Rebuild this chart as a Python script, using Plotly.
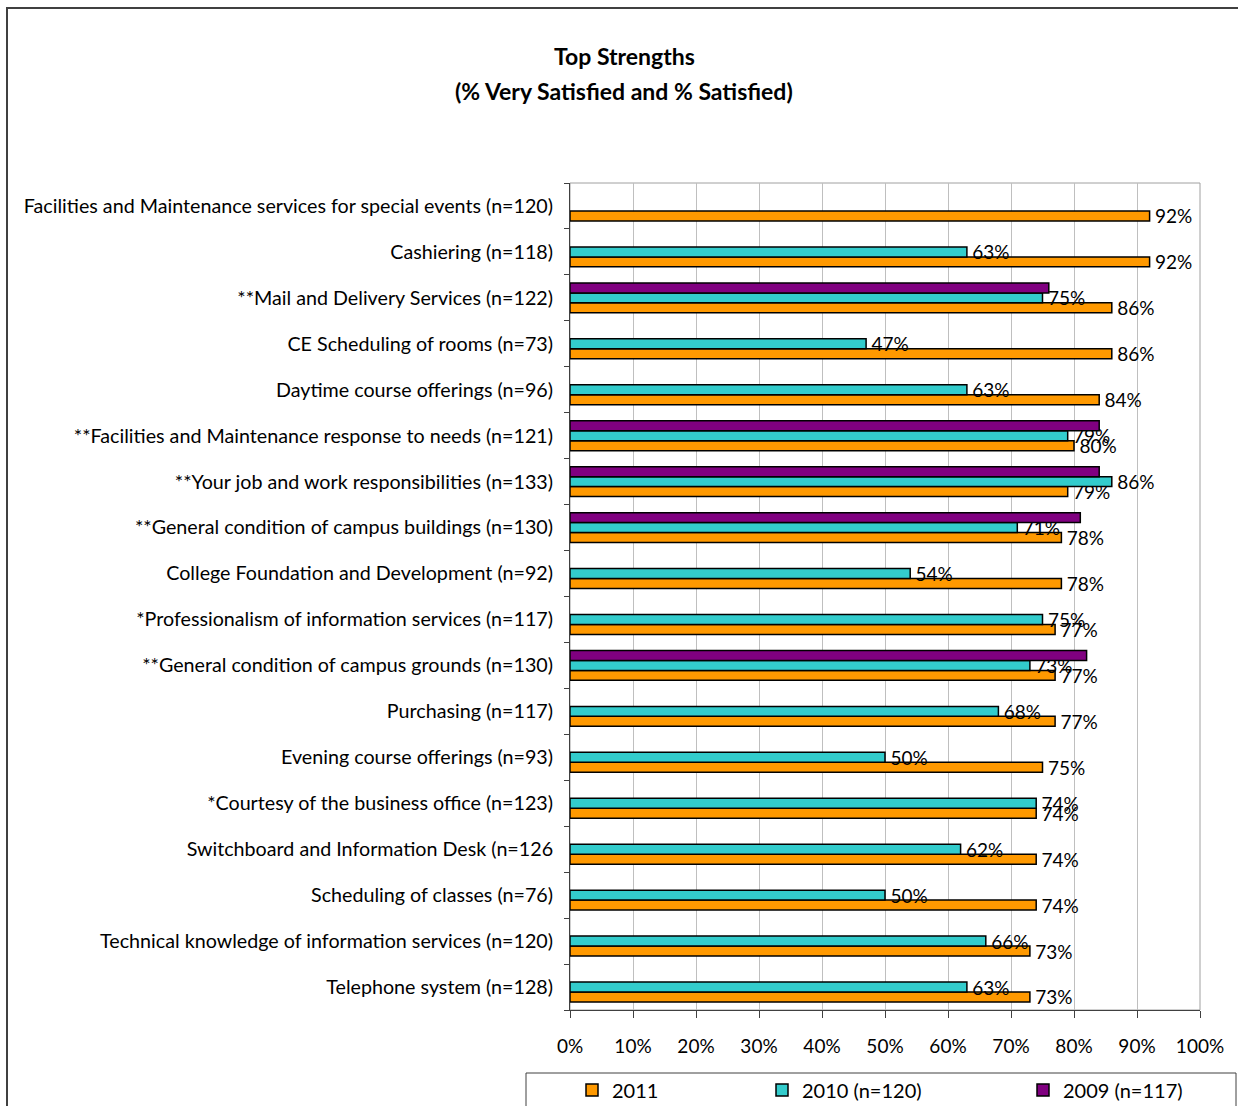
import plotly.graph_objects as go

categories = [
    "Facilities and Maintenance services for special events (n=120)",
    "Cashiering (n=118)",
    "**Mail and Delivery Services (n=122)",
    "CE Scheduling of rooms (n=73)",
    "Daytime course offerings (n=96)",
    "**Facilities and Maintenance response to needs (n=121)",
    "**Your job and work responsibilities (n=133)",
    "**General condition of campus buildings (n=130)",
    "College Foundation and Development (n=92)",
    "*Professionalism of information services (n=117)",
    "**General condition of campus grounds (n=130)",
    "Purchasing (n=117)",
    "Evening course offerings (n=93)",
    "*Courtesy of the business office (n=123)",
    "Switchboard and Information Desk (n=126",
    "Scheduling of classes (n=76)",
    "Technical knowledge of information services (n=120)",
    "Telephone system (n=128)",
]
v2011 = [92, 92, 86, 86, 84, 80, 79, 78, 78, 77, 77, 77, 75, 74, 74, 74, 73, 73]
v2010 = [None, 63, 75, 47, 63, 79, 86, 71, 54, 75, 73, 68, 50, 74, 62, 50, 66, 63]
v2009 = [None, None, 76, None, None, 84, 84, 81, None, None, 82, None, None, None, None, None, None, None]

series_names = ["2011", "2010 (n=120)", "2009 (n=117)"]
colors = ["#FF9900", "#33CCCC", "#800080"]
x_ticks = [0, 10, 20, 30, 40, 50, 60, 70, 80, 90, 100]
x_tick_labels = ["0%", "10%", "20%", "30%", "40%", "50%", "60%", "70%", "80%", "90%", "100%"]
title_lines = ["Top Strengths", "(% Very Satisfied and % Satisfied)"]

FONT = "Lato, Open Sans, sans-serif"

def lab(vals, show):
    if not show:
        return None
    return ["" if v is None else f"\u2009{v}%" for v in vals]

fig = go.Figure()
for i, (vals, name, col, show) in enumerate(zip([v2011, v2010, v2009], series_names, colors, [True, True, False])):
    fig.add_trace(go.Bar(
        y=categories, x=vals, orientation="h", name=name,
        marker=dict(color=col, line=dict(color="black", width=1.5)),
        text=lab(vals, show), textposition="outside" if show else "none",
        textfont=dict(family=FONT, size=19, color="black"),
        constraintext="none", cliponaxis=False,
        legend="legend" if i == 0 else f"legend{i+1}",
        showlegend=True,
        hoverinfo="x+y+name",
    ))

W, H = 1238, 1106
L, R, T, B = 570, 1200, 183, 1010

def px(x):
    return (x - L) / (R - L)

def py(y):
    return (B - y) / (B - T)

legend_common = dict(
    orientation="h", xref="container", yref="container",
    xanchor="left", yanchor="middle", bgcolor="rgba(0,0,0,0)",
    borderwidth=0, font=dict(family=FONT, size=20, color="black"),
)

fig.update_layout(
    width=W, height=H,
    margin=dict(l=L, r=W - R, t=T, b=H - B, autoexpand=False),
    paper_bgcolor="white", plot_bgcolor="white",
    barmode="group", bargap=0.35, bargroupgap=0,
    showlegend=True,
    font=dict(family=FONT, size=20, color="black"),
    xaxis=dict(
        range=[0, 100], tickvals=x_ticks, ticktext=x_tick_labels,
        showgrid=True, gridcolor="#BFBFBF", gridwidth=1,
        zeroline=False, showline=True, linecolor="#404040", linewidth=1,
        ticks="outside", ticklen=7, tickcolor="#404040",
        tickfont=dict(family=FONT, size=19, color="black"),
        ticklabelstandoff=12, fixedrange=True, automargin=False,
    ),
    yaxis=dict(
        categoryorder="array", categoryarray=categories[::-1],
        showline=True, linecolor="#404040", linewidth=1,
        ticks="outside", ticklen=5, tickcolor="#404040", tickson="boundaries",
        tickfont=dict(family=FONT, size=19.7, color="black"),
        ticklabelstandoff=12, showgrid=False, fixedrange=True, automargin=False,
    ),
    legend=dict(x=572 / W, y=1 - 1090 / H, **legend_common),
    legend2=dict(x=762 / W, y=1 - 1090 / H, **legend_common),
    legend3=dict(x=1023 / W, y=1 - 1090 / H, **legend_common),
    annotations=[
        dict(text=f"<b>{title_lines[0]}</b>", xref="paper", yref="paper",
             x=px(624), y=py(56), xanchor="center", yanchor="middle", showarrow=False,
             font=dict(family=FONT, size=23, color="black")),
        dict(text=f"<b>{title_lines[1]}</b>", xref="paper", yref="paper",
             x=px(624), y=py(91), xanchor="center", yanchor="middle", showarrow=False,
             font=dict(family=FONT, size=23, color="black")),
    ],
    shapes=[
        dict(type="rect", xref="paper", yref="paper", x0=0, x1=1, y0=0, y1=1,
             line=dict(color="#A0A0A0", width=1), layer="below"),
        dict(type="rect", xref="paper", yref="paper",
             x0=px(7), x1=px(1245), y0=py(1115), y1=py(8),
             line=dict(color="#404040", width=2)),
        dict(type="rect", xref="paper", yref="paper",
             x0=px(526), x1=px(1236), y0=py(1110), y1=py(1073),
             line=dict(color="#404040", width=1)),
    ],
)

fig.write_html("out.html")
